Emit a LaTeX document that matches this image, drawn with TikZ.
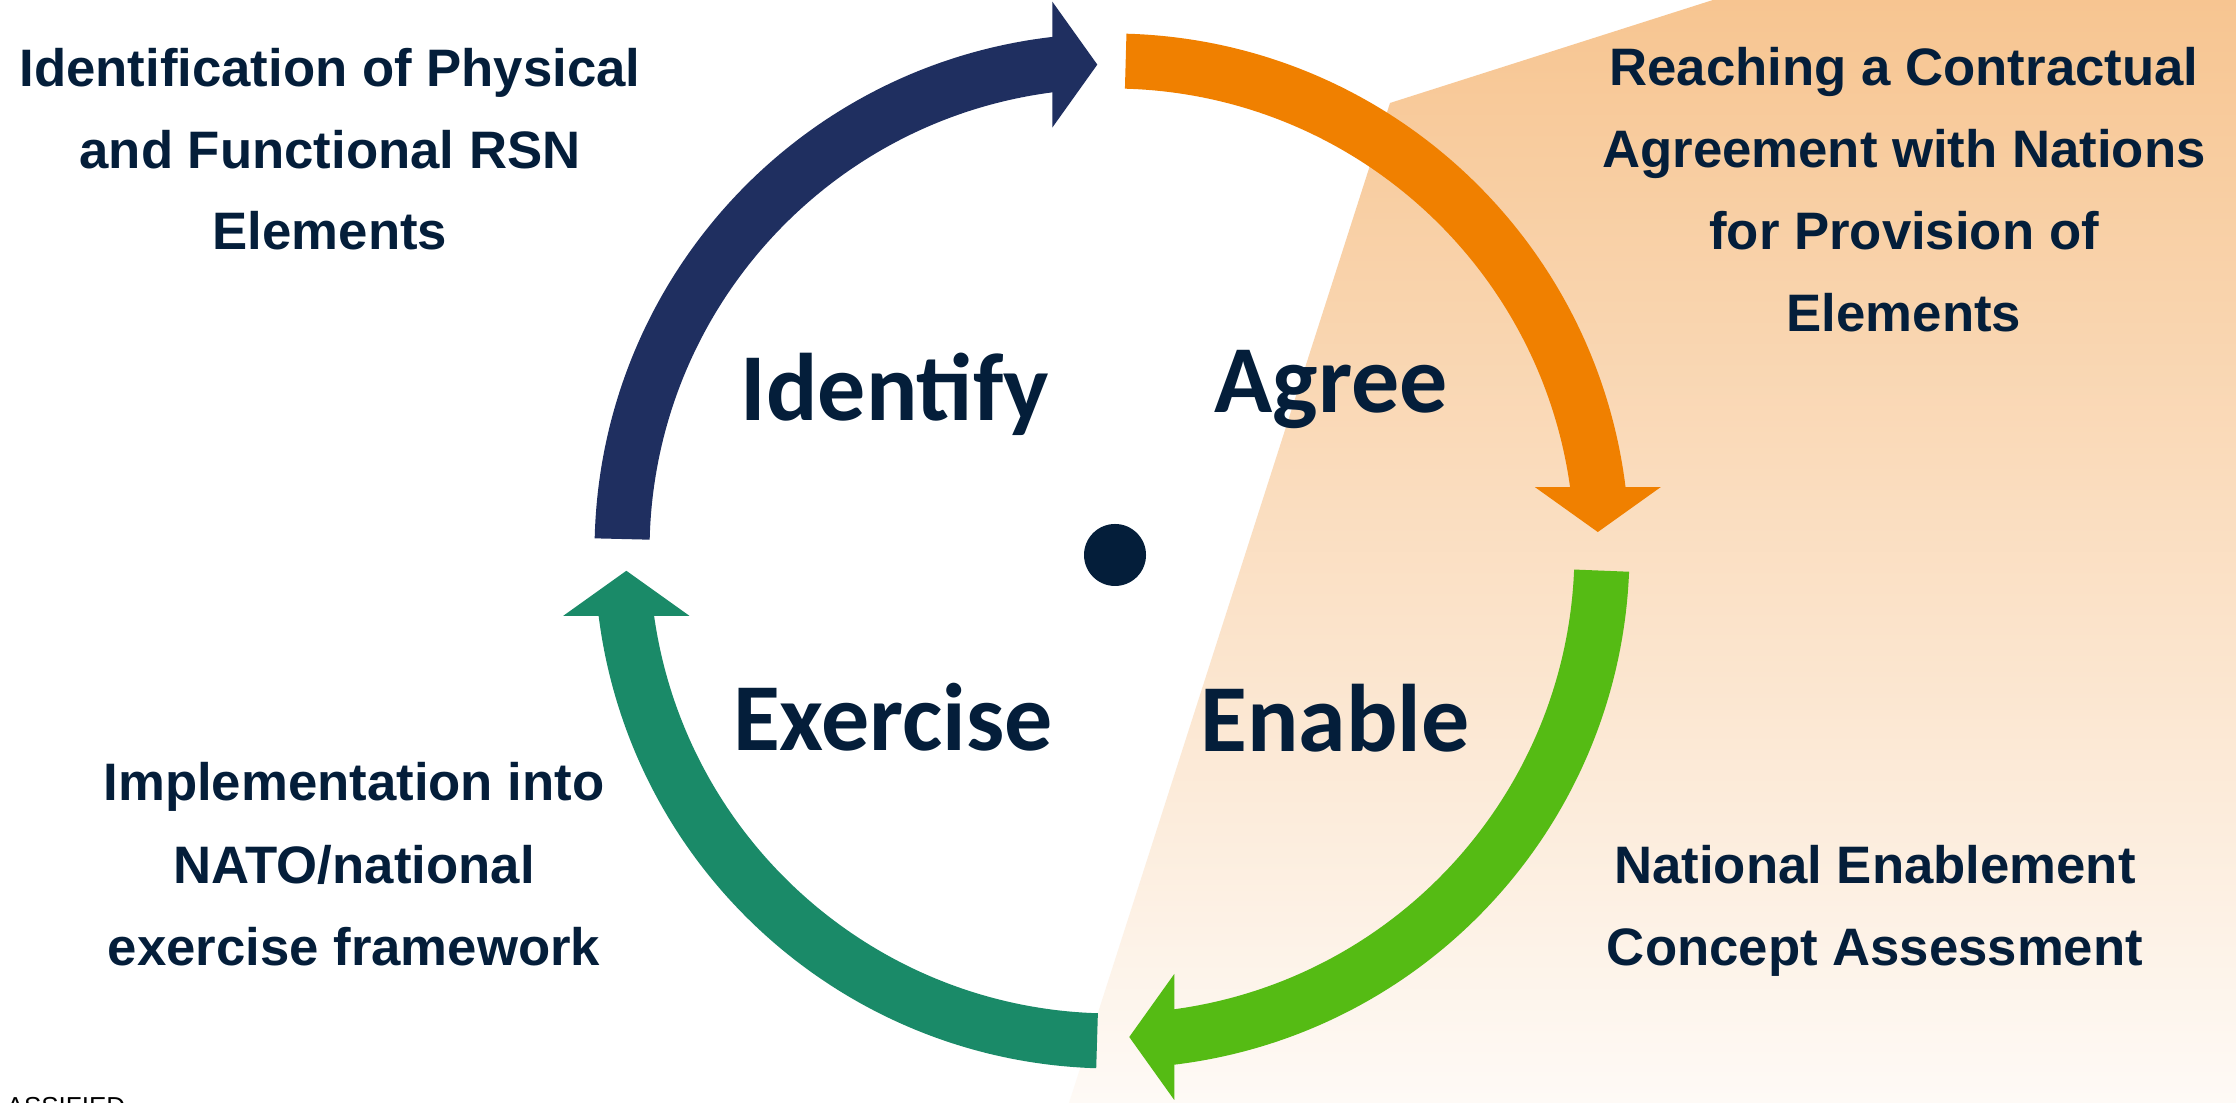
\documentclass[tikz,border=0pt]{standalone}
\usepackage{fontspec}
\setmainfont{Liberation Sans}
\newfontfamily\calibrifont{Carlito}
\definecolor{navyA}{HTML}{1F2F60}
\definecolor{orangeA}{HTML}{F08000}
\definecolor{greenA}{HTML}{55BB14}
\definecolor{tealA}{HTML}{1A8A68}
\definecolor{ink}{HTML}{041E3A}
\definecolor{bgtop}{HTML}{F7C591}
\definecolor{bgbot}{HTML}{FEFAF6}
% #1 colour, #2 rotation, #3 start angle, #4 head back angle (canonical frame: head at top, pointing right)
\newcommand\cycarrow[4]{%
  \begin{scope}[rotate=#2]
  \fill[#1] (#3:517.5) arc[start angle=#3, end angle={#4-1}, radius=51.75mm]
    -- ({#4-1}:462.5) arc[start angle={#4-1}, end angle=#3, radius=46.25mm] -- cycle;
  \fill[#1] ({490*cos(#4)},{490*sin(#4)+63}) -- ({490*cos(#4)+45},{490*sin(#4)})
    -- ({490*cos(#4)},{490*sin(#4)-63}) -- cycle;
  \end{scope}
}
\begin{document}
\begin{tikzpicture}[x=0.1mm,y=0.1mm,
  big/.style={font=\calibrifont\bfseries\fontsize{27.3pt}{32pt}\selectfont, text=ink, inner sep=0, anchor=base},
  side/.style={font=\bfseries\fontsize{15pt}{18pt}\selectfont, text=ink, inner sep=0, anchor=base},
]
\useasboundingbox (0,0) rectangle (2236,1103);
\clip (0,0) rectangle (2236,1103);
\fill[white] (0,0) rectangle (2236,1103);
\shade[top color=bgtop, bottom color=bgbot] (1713,1103) -- (1390,1000) -- (1069,0) -- (2236,0) -- (2236,1103) -- cycle;

\begin{scope}[shift={(1112,552)}]
  \cycarrow{navyA}{0}{178.6}{97}
  \cycarrow{orangeA}{-90}{178.4}{97.5}
  \cycarrow{greenA}{-180}{177.7}{97.3}
  \cycarrow{tealA}{-270}{178.25}{97.6}
\end{scope}

\fill[ink] (1115,548) circle[radius=3.1mm];
\coordinate (dot) at (1115,548);

\node[big] (identify) at (895,682) {Identify};
\node[big] (agree) at (1331,690) {Agree};
\node[big] (exercise) at (893,352) {Exercise};
\node[big] (enable) at (1335,351) {Enable};

\node[side] (tl1) at (330,1016) {Identification of Physical};
\node[side] (tl2) at (330,934) {and Functional RSN};
\node[side] (tl3) at (330,853) {Elements};

\node[side] (tr1) at (1904,1017) {Reaching a Contractual};
\node[side] (tr2) at (1904,935) {Agreement with Nations};
\node[side] (tr3) at (1904,853) {for Provision of};
\node[side] (tr4) at (1904,771) {Elements};

\node[side] (bl1) at (354,302) {Implementation into};
\node[side] (bl2) at (354,219) {NATO/national};
\node[side] (bl3) at (354,137) {exercise framework};

\node[side] (br1) at (1875,219) {National Enablement};
\node[side] (br2) at (1875,137) {Concept Assessment};

\node[font=\fontsize{7.4pt}{9pt}\selectfont, text=black, inner sep=0, anchor=base west] (cls) at (6,-13) {ASSIFIED};
\end{tikzpicture}
\end{document}
